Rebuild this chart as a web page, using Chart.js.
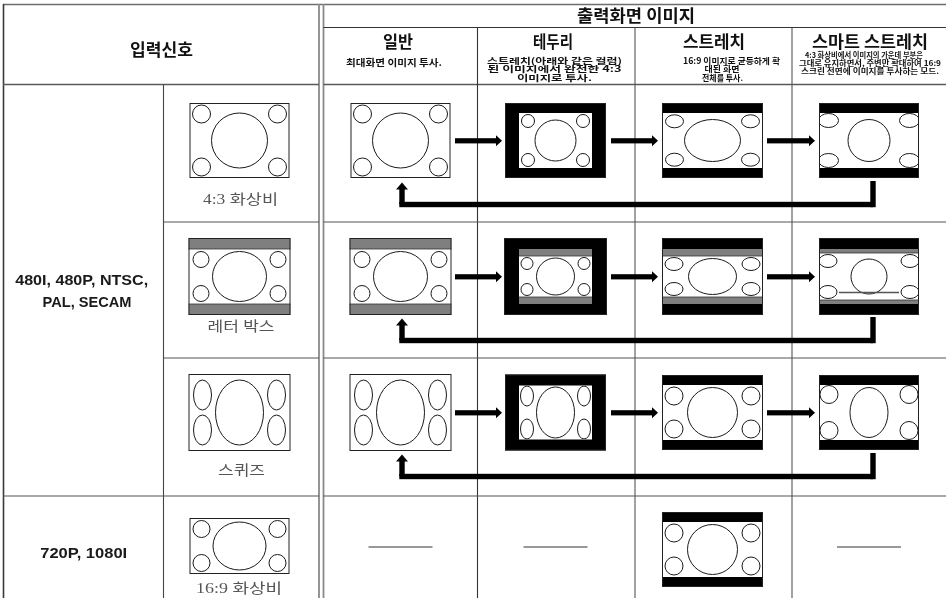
<!DOCTYPE html>
<html>
<head>
<meta charset="utf-8">
<script src="https://cdn.jsdelivr.net/npm/chart.js@4.4.1/dist/chart.umd.min.js"></script>
<style>
html,body{margin:0;padding:0;background:#fff;}
canvas{display:block;}
</style>
</head>
<body>
<canvas id="c" width="946" height="598"></canvas>
<script>
// ---------------- DATA ----------------
const inputTitle = '입력신호';
const outputTitle = '출력화면 이미지';
const modeNames = ['일반', '테두리', '스트레치', '스마트 스트레치'];
const modeNotes = [
  ['최대화면 이미지 투사.'],
  ['스트레치(아래와 같은 컬럼)', '된 이미지에서 완전한 4:3', '이미지로 투사.'],
  ['16:9 이미지로 균등하게 확', '대된 화면', '전체를 투사.'],
  ['4:3 화상비에서 이미지의 가운데 부분은', '그대로 유지하면서, 주변만 확대하여 16:9', '스크린 전면에 이미지를 투사하는 모드.']
];
const signalGroups = [['480I, 480P, NTSC,', 'PAL, SECAM'], ['720P, 1080I']];
const sourceAspects = ['4:3 화상비', '레터 박스', '스퀴즈', '16:9 화상비'];
const sourceFrames = ['in43', 'inLB', 'inSQ', 'in169'];
const outputFrames = [
  ['in43', 'bd43', 'st43', 'sm43'],
  ['inLB', 'bdLB', 'stLB', 'smLB'],
  ['inSQ', 'bdSQ', 'st169', 'sm169'],
  [null, null, 'st169', null]
];
const cycleRows = [true, true, true, false];

// ---------------- LAYOUT / STYLE ----------------
const L = {
  W: 946, H: 598,
  lines: [
    [3, 4.5, 946, 4.5, '#6e6e6e', 1.6],
    [3.5, 4, 3.5, 598, '#3a3a3a', 1.6],
    [319, 4, 319, 598, '#8a8a8a', 1.8],
    [323.5, 4, 323.5, 598, '#8a8a8a', 1.8],
    [3, 84.5, 319, 84.5, '#5a5a5a', 1.4],
    [323.5, 84.5, 946, 84.5, '#5a5a5a', 1.4],
    [323.5, 27.5, 946, 27.5, '#333', 1.2],
    [163.5, 84.5, 163.5, 598, '#444', 1.1],
    [477.5, 27.5, 477.5, 598, '#333', 1.1],
    [635, 27.5, 635, 598, '#555', 1.1],
    [792, 27.5, 792, 598, '#555', 1.1],
    [163.5, 222, 319, 222, '#555', 1.2],
    [323.5, 222, 946, 222, '#555', 1.2],
    [163.5, 358, 319, 358, '#555', 1.2],
    [323.5, 358, 946, 358, '#555', 1.2],
    [3, 496, 319, 496, '#555', 1.2],
    [323.5, 496, 946, 496, '#555', 1.2]
  ],
  inputTitle: [161.5, 50, 63],
  outputTitle: [636, 16, 118],
  modeHead: [[398, 42, 30], [553, 42, 40], [714, 42, 62], [870, 42, 116]],
  modeNote: [
    [[394, 62, 96]],
    [[554.5, 60.5, 135], [554.5, 69, 134], [554.5, 77.5, 75]],
    [[731.5, 60.5, 97], [722, 69, 35], [722.5, 77.5, 41]],
    [[864, 55, 118], [870, 63, 142], [870, 71, 138]]
  ],
  noteFont: ['bold 9.5px ', 'bold 8.5px ', 'bold 8.5px ', 'bold 7.8px '],
  groupText: [[[81.7, 280.5, 133], [87, 303, 89]], [[83.7, 554, 87]]],
  sourceX: 239.5,
  sourceY: [140.5, 276.5, 412.5, 546],
  sourceLabel: [[240.5, 200, 75], [241, 327.5, 67], [241.5, 471, 47], [239, 589.5, 86]],
  colX: [400.5, 555.5, 712.5, 869],
  rowY: [140.5, 276.5, 412.5, 549.5],
  dashY: 547, dashHalf: 32,
  arrows: [[455, 502], [611, 658], [767, 815]],
  retRight: 873, retLeft: 402
};

const FR = {
  in43:  {W:100,H:75,bar:[0,0,0,0],gray:[0,0],c:[28,27.5],k:[9,9,12,11]},
  inLB:  {W:102,H:77,bar:[0,0,0,0],gray:[11,11],c:[27,25],k:[8,8,12.5,10.5]},
  inSQ:  {W:102,H:77,bar:[0,0,0,0],gray:[0,0],c:[24,32.5],k:[9,15,14,21]},
  in169: {W:100,H:56,bar:[0,0,0,0],gray:[0,0],c:[26.5,24],k:[8.5,8.5,12,11]},
  bd43:  {W:101,H:75,bar:[10,10,14,14],gray:[0,0],c:[20.5,20.5],k:[6.5,6.5,9,8]},
  bdLB:  {W:103,H:77,bar:[11,11,15,15],gray:[7,7],c:[19,18.5],k:[6,6,8,7.5]},
  bdSQ:  {W:101,H:76,bar:[11,11,14,14],gray:[0,0],c:[19,25.5],k:[6.5,10,8,10.5]},
  st43:  {W:101,H:75,bar:[10,10,0,0],gray:[0,0],c:[28,21],k:[9,6.5,12.5,8.3]},
  stLB:  {W:101,H:77,bar:[11,11,0,0],gray:[7,7],c:[24,18],k:[9,6.5,12,8]},
  st169: {W:101,H:75,bar:[10,10,0,0],gray:[0,0],c:[25,25],k:[9,9,12,11]},
  sm43:  {W:100,H:75,bar:[10,10,0,0],gray:[0,0],c:[21,21],k:[10,7,9.5,7.5]},
  smLB:  {W:100,H:77,bar:[11,11,0,0],gray:[4,4],c:[18,17.5],k:[9,6.5,9,8],line:[30,16]},
  sm169: {W:100,H:75,bar:[10,10,0,0],gray:[0,0],c:[19,25],k:[9,9,10,9.5]}
};

const KR = '"Noto Sans CJK KR", "Noto Sans", sans-serif';
const SERIF = '"Liberation Serif", "DejaVu Serif", "Noto Sans CJK KR", serif';
const LAT = '"Liberation Sans", Arial, "Noto Sans CJK KR", sans-serif';

const tablePlugin = {
  id: 'tablePlugin',
  beforeDraw(chart) {
    const ctx = chart.ctx;
    ctx.save(); ctx.fillStyle = '#fff'; ctx.fillRect(0, 0, chart.width, chart.height); ctx.restore();
  },
  afterDraw(chart) {
    const ctx = chart.ctx;
    const xs = chart.scales.x, ys = chart.scales.y;
    const X = v => xs.getPixelForValue(v);
    const Y = v => ys.getPixelForValue(v);
    const DX = d => X(d) - X(0);
    const DY = d => Y(d) - Y(0);

    function seg(x1, y1, x2, y2, col, w) {
      ctx.beginPath(); ctx.moveTo(X(x1), Y(y1)); ctx.lineTo(X(x2), Y(y2));
      ctx.strokeStyle = col; ctx.lineWidth = w; ctx.stroke();
    }
    function text(t, cx, cy, font, w, color) {
      ctx.save();
      ctx.font = font;
      const m = ctx.measureText(t).width;
      ctx.translate(X(cx), Y(cy));
      if (w) ctx.scale(DX(w) / m, 1);
      ctx.textAlign = 'center'; ctx.textBaseline = 'middle';
      ctx.fillStyle = color; ctx.fillText(t, 0, 0);
      ctx.restore();
    }
    function rect(x, y, w, h, col) {
      ctx.fillStyle = col; ctx.fillRect(X(x), Y(y), DX(w), DY(h));
    }
    function ell(cx, cy, rx, ry) {
      ctx.beginPath(); ctx.ellipse(X(cx), Y(cy), DX(rx), DY(ry), 0, 0, Math.PI * 2);
      ctx.fillStyle = '#fff'; ctx.fill();
      ctx.strokeStyle = '#1a1a1a'; ctx.lineWidth = 1; ctx.stroke();
    }
    function frame(cx, cy, key) {
      const f = FR[key];
      const x0 = cx - f.W / 2, y0 = cy - f.H / 2;
      const [bt, bb, bl, br] = f.bar;
      const [gt, gb] = f.gray;
      if (bt || bb || bl || br) rect(x0, y0, f.W, f.H, '#000');
      const ix = x0 + bl, iy = y0 + bt, iw = f.W - bl - br, ih = f.H - bt - bb;
      rect(ix, iy, iw, ih, '#fff');
      if (gt) { rect(ix, iy, iw, gt, '#7f7f7f'); seg(ix, iy + gt, ix + iw, iy + gt, '#333', 0.8); }
      if (gb) { rect(ix, iy + ih - gb, iw, gb, '#7f7f7f'); seg(ix, iy + ih - gb, ix + iw, iy + ih - gb, '#333', 0.8); }
      const wx = ix, wy = iy + gt, ww = iw, wh = ih - gt - gb;
      ctx.save();
      ctx.beginPath(); ctx.rect(X(wx), Y(wy), DX(ww), DY(wh)); ctx.clip();
      const [krx, kry, kdx, kdy] = f.k;
      ell(wx + kdx, wy + kdy, krx, kry);
      ell(wx + ww - kdx, wy + kdy, krx, kry);
      ell(wx + kdx, wy + wh - kdy, krx, kry);
      ell(wx + ww - kdx, wy + wh - kdy, krx, kry);
      ell(wx + ww / 2, wy + wh / 2, f.c[0], f.c[1]);
      ctx.restore();
      if (f.line) seg(cx - f.line[0], cy + f.line[1], cx + f.line[0], cy + f.line[1], '#555', 1.3);
      ctx.strokeStyle = '#222'; ctx.lineWidth = 1;
      ctx.strokeRect(X(x0) + 0.5, Y(y0) + 0.5, DX(f.W) - 1, DY(f.H) - 1);
    }
    function arrowRight(x1, x2, y) {
      const hl = 6, hh = 5.5, t = 2.6;
      rect(x1, y - t, x2 - hl - x1, 2 * t, '#000');
      ctx.beginPath(); ctx.moveTo(X(x2 - hl), Y(y - hh)); ctx.lineTo(X(x2), Y(y)); ctx.lineTo(X(x2 - hl), Y(y + hh)); ctx.closePath();
      ctx.fillStyle = '#000'; ctx.fill();
    }
    function returnArrow(cy) {
      const yTop = cy + 40.5, yLine = cy + 64, tip = cy + 42, t = 2.7;
      rect(L.retRight - t, yTop, 2 * t, yLine + t - yTop, '#000');
      rect(L.retLeft - t, yLine - t, L.retRight - L.retLeft + t, 2 * t, '#000');
      rect(L.retLeft - t, tip + 6, 2 * t, yLine - tip - 6, '#000');
      ctx.beginPath(); ctx.moveTo(X(L.retLeft - 6), Y(tip + 7)); ctx.lineTo(X(L.retLeft), Y(tip)); ctx.lineTo(X(L.retLeft + 6), Y(tip + 7)); ctx.closePath();
      ctx.fillStyle = '#000'; ctx.fill();
    }

    // table grid
    L.lines.forEach(s => seg(s[0], s[1], s[2], s[3], s[4], s[5]));

    // headers
    text(inputTitle, L.inputTitle[0], L.inputTitle[1], 'bold 17px ' + KR, L.inputTitle[2], '#111');
    text(outputTitle, L.outputTitle[0], L.outputTitle[1], 'bold 17px ' + KR, L.outputTitle[2], '#111');
    modeNames.forEach((m, i) => {
      const p = L.modeHead[i];
      text(m, p[0], p[1], 'bold 17px ' + KR, p[2], '#111');
      modeNotes[i].forEach((n, j) => {
        const q = L.modeNote[i][j];
        text(n, q[0], q[1], L.noteFont[i] + KR, q[2], '#111');
      });
    });

    // signal groups
    signalGroups.forEach((g, i) => g.forEach((t, j) => {
      const q = L.groupText[i][j];
      text(t, q[0], q[1], 'bold 15px ' + LAT, q[2], '#1a1a1a');
    }));

    // sources
    sourceFrames.forEach((k, i) => {
      frame(L.sourceX, L.sourceY[i], k);
      const q = L.sourceLabel[i];
      text(sourceAspects[i], q[0], q[1], '14px ' + SERIF, q[2], '#555');
    });

    // outputs
    outputFrames.forEach((row, r) => {
      row.forEach((k, c) => {
        if (k) frame(L.colX[c], L.rowY[r], k);
        else seg(L.colX[c] - L.dashHalf, L.dashY, L.colX[c] + L.dashHalf, L.dashY, '#333', 1.1);
      });
      if (cycleRows[r]) {
        L.arrows.forEach(a => arrowRight(a[0], a[1], L.rowY[r] + 0.3));
        returnArrow(L.rowY[r]);
      }
    });
  }
};

new Chart(document.getElementById('c'), {
  type: 'scatter',
  data: { datasets: [{ data: [], pointRadius: 0 }] },
  options: {
    responsive: false,
    animation: false,
    layout: { padding: 0 },
    plugins: { legend: { display: false }, tooltip: { enabled: false } },
    scales: {
      x: { type: 'linear', min: 0, max: L.W, display: false },
      y: { type: 'linear', min: 0, max: L.H, reverse: true, display: false }
    }
  },
  plugins: [tablePlugin]
});
</script>
</body>
</html>
